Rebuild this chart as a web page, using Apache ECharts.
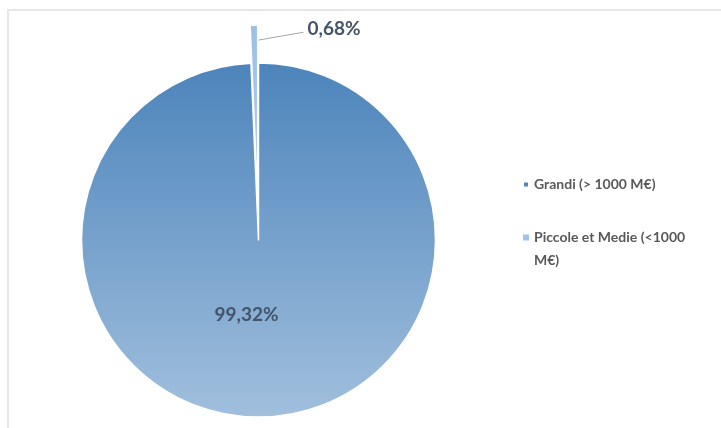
<!DOCTYPE html>
<html>
<head>
<meta charset="utf-8">
<script src="https://cdn.jsdelivr.net/npm/echarts@6/dist/echarts.min.js"></script>
<style>
  html, body { margin: 0; padding: 0; background: #fff; }
  #chart { width: 721px; height: 428px; position: relative; }
  #frame { position: absolute; left: 7px; top: 9px; width: 760px; height: 460px;
           border-top: 2px solid #e6e6e6; border-left: 2px solid #e6e6e6; pointer-events: none; }
</style>
</head>
<body>
<div id="chart"></div>
<div id="frame"></div>
<script>
const categories = ['Grandi (> 1000 M€)', 'Piccole et Medie (<1000 M€)'];
const shares = [99.32, 0.68];

const fmt = v => v.toFixed(2).replace('.', ',') + '%';

const chart = echarts.init(document.getElementById('chart'), null, { renderer: 'canvas' });

const colors = [
  new echarts.graphic.LinearGradient(0, 0, 0, 1, [
    { offset: 0, color: '#4c84bb' },
    { offset: 1, color: '#a1bfdd' }
  ]),
  new echarts.graphic.LinearGradient(0, 0, 0, 1, [
    { offset: 0, color: '#9dbfe6' },
    { offset: 1, color: '#b5cfee' }
  ])
];

const labelFont = {
  fontFamily: 'Lato, "Open Sans", sans-serif',
  fontWeight: 'bold',
  fontSize: 19,
  color: '#44546a'
};

// index of the exploded slice
const exploded = 1;
const explodeDist = 38;
// direction of the exploded slice's mid angle (clockwise from 12 o'clock)
const startShare = shares.slice(0, exploded).reduce((a, b) => a + b, 0);
const total = shares.reduce((a, b) => a + b, 0);
const midAng = (startShare + shares[exploded] / 2) / total * 2 * Math.PI;
const cx = 258.5, cy = 240, R = 177;
const ecx = cx + Math.sin(midAng) * explodeDist;
const ecy = cy - Math.cos(midAng) * explodeDist;

function buildData(visibleIdx) {
  return categories.map((name, i) => {
    const visible = visibleIdx.indexOf(i) >= 0;
    return {
      name: name,
      value: shares[i],
      itemStyle: visible
        ? { color: colors[i], borderColor: '#ffffff', borderWidth: 1.5 }
        : { color: 'rgba(0,0,0,0)', borderWidth: 0 }
    };
  });
}

const mainData = buildData([0]);
mainData[0].label = Object.assign({ show: true, position: 'inside', offset: [-14, -17] }, labelFont);

const explData = buildData([exploded]);
explData[exploded].label = Object.assign({ show: true, position: 'outside' }, labelFont);
explData[exploded].labelLine = { show: true, length: 5, length2: 40, lineStyle: { color: '#a6a6a6', width: 1 } };

chart.setOption({
  animation: false,
  legend: {
    orient: 'vertical',
    left: 517,
    top: 168,
    itemWidth: 6,
    itemHeight: 6,
    itemGap: 7,
    icon: 'rect',
    data: [
      { name: categories[0], itemStyle: { color: '#4f87be' } },
      { name: categories[1], itemStyle: { color: '#a3c3e8' } }
    ],
    formatter: function (name) {
      if (name === categories[1]) return '\nPiccole et Medie (<1000\nM€)';
      return name;
    },
    textStyle: {
      fontFamily: 'Lato, "Open Sans", sans-serif',
      fontWeight: 'bold',
      fontSize: 14,
      color: '#595959',
      lineHeight: 23
    },
    selectedMode: false
  },
  series: [{
    type: 'pie',
    center: [cx, cy],
    radius: [0, R],
    startAngle: 90,
    clockwise: true,
    avoidLabelOverlap: false,
    silent: true,
    label: { show: false, formatter: p => fmt(p.value) },
    labelLine: { show: false },
    emphasis: { disabled: true },
    data: mainData
  }, {
    type: 'pie',
    center: [ecx, ecy],
    radius: [0, R],
    startAngle: 90,
    clockwise: true,
    avoidLabelOverlap: false,
    silent: true,
    label: { show: false, formatter: p => fmt(p.value) },
    labelLine: { show: false },
    labelLayout: function (params) {
      if (params.dataIndex !== exploded) return {};
      const r = params.rect;
      const lx = r.x + r.width + 49;
      const ly = r.y + 5;
      return {
        x: lx,
        y: ly,
        align: 'left',
        verticalAlign: 'middle',
        labelLinePoints: [
          [r.x + r.width - 1, r.y + 16],
          [lx - 4, ly + 3],
          [lx - 4, ly + 3]
        ]
      };
    },
    emphasis: { disabled: true },
    data: explData
  }]
});
</script>
</body>
</html>
